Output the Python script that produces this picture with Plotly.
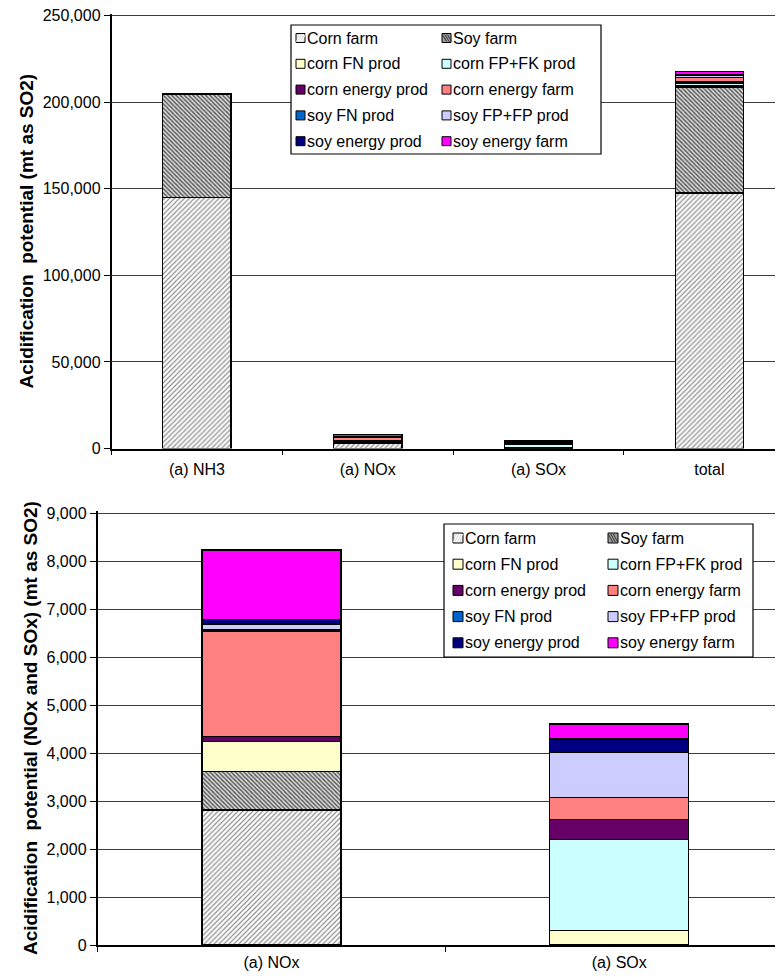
import plotly.graph_objects as go

# the page body adds an 8px margin, so the figure is drawn from (8, 8)
OFF = 8
W, H = 783 - OFF, 977 - OFF

series_names = ["Corn farm", "Soy farm", "corn FN prod", "corn FP+FK prod",
                "corn energy prod", "corn energy farm", "soy FN prod",
                "soy FP+FP prod", "soy energy prod", "soy energy farm"]

top_categories = ["(a) NH3", "(a) NOx", "(a) SOx", "total"]
bottom_categories = ["(a) NOx", "(a) SOx"]

# values per series for (a) NH3, (a) NOx, (a) SOx, total
corn_farm        = [144800, 2810,    0, 147610]
soy_farm         = [ 59900,  800,    0,  60700]
corn_fn_prod     = [     0,  625,  300,    925]
corn_fpfk_prod   = [     0,    0, 1900,   1900]
corn_energy_prod = [     0,  105,  420,    525]
corn_energy_farm = [     0, 2200,  455,   2655]
soy_fn_prod      = [     0,   20,    0,     20]
soy_fpfp_prod    = [     0,  130,  930,   1060]
soy_energy_prod  = [     0,   90,  285,    375]
soy_energy_farm  = [     0, 1450,  310,   1760]

all_values = [corn_farm, soy_farm, corn_fn_prod, corn_fpfk_prod, corn_energy_prod,
              corn_energy_farm, soy_fn_prod, soy_fpfp_prod, soy_energy_prod, soy_energy_farm]

top_ticks = [0, 50000, 100000, 150000, 200000, 250000]
bottom_ticks = [0, 1000, 2000, 3000, 4000, 5000, 6000, 7000, 8000, 9000]
top_max, bottom_max = 250000, 9000

colors = ["#ffffff", "#ffffff", "#ffffcc", "#ccffff", "#660066", "#ff8080",
          "#0066cc", "#ccccff", "#000080", "#ff00ff"]
patterns = [dict(shape="/", fgcolor="#8c8c8c", bgcolor="#ffffff", size=3.5, solidity=0.35),
            dict(shape="\\", fgcolor="#505050", bgcolor="#dcdcdc", size=3, solidity=0.45),
            None, None, None, None, None, None, None, None]
# legend swatch look for the patterned series
swatch_fill = ["#e4e4e4", "#9c9c9c"] + colors[2:]
FONT = "Liberation Sans, Arial, sans-serif"

fig = go.Figure()

def px2x(p):
    return (p - OFF) / W

def px2y(p):
    return 1 - (p - OFF) / H

for panel, (cats, sl, xa, ya) in enumerate([
        (top_categories, slice(0, 4), "x", "y"),
        (bottom_categories, slice(1, 3), "x2", "y2")]):
    for i, name in enumerate(series_names):
        marker = dict(color=colors[i], line=dict(color="#000000", width=1.4))
        if patterns[i] is not None:
            marker["pattern"] = dict(fillmode="replace", **patterns[i])
        fig.add_trace(go.Bar(
            x=cats, y=all_values[i][sl], name=name,
            marker=marker, xaxis=xa, yaxis=ya,
            showlegend=False, hoverinfo="skip"))

fig.update_layout(
    width=W, height=H,
    margin=dict(l=0, r=0, t=0, b=0),
    paper_bgcolor="white", plot_bgcolor="white",
    barmode="stack", bargap=0.6,
    font=dict(family=FONT, size=16, color="#000000"),
    showlegend=False,
)

grid = "#3c3c3c"
common_x = dict(type="category", showline=True, linecolor="#000", linewidth=1.5,
                ticks="outside", tickson="boundaries", ticklen=5, tickcolor="#000",
                showgrid=False, tickfont=dict(size=16), automargin=False, fixedrange=True)
common_y = dict(tickformat=",d", showline=True, linecolor="#000", linewidth=1.5,
                ticks="outside", ticklen=6, tickcolor="#000",
                showgrid=True, gridcolor=grid, gridwidth=1, zeroline=False,
                tickfont=dict(size=16), automargin=False, fixedrange=True,
                ticklabeloverflow="allow")

# top axis: 0 at y=448.5px, 250,000 at y=15.5px; a little headroom keeps the top gridline
top_px = (448.5 - 15.5) / top_max
top_head = 1000
bot_px = (945 - 513) / bottom_max
bot_head = 40
fig.update_layout(
    xaxis=dict(domain=[px2x(111.5), 1], range=[-0.5, 3.431], anchor="y",
               ticklabelstandoff=6, **common_x),
    yaxis=dict(domain=[px2y(448.5), px2y(15.5 - top_head * top_px)],
               range=[0, top_max + top_head],
               tickvals=top_ticks, anchor="x",
               title=dict(text="Acidification  potential (mt as SO2)",
                          font=dict(size=19, weight="bold"), standoff=4),
               **common_y),
    xaxis2=dict(domain=[px2x(97.5), 1], range=[-0.5, 1.471], anchor="y2",
                ticklabelstandoff=2, **common_x),
    yaxis2=dict(domain=[px2y(945), px2y(513 - bot_head * bot_px)],
                range=[0, bottom_max + bot_head],
                tickvals=bottom_ticks, anchor="x2",
                title=dict(text="Acidification  potential (NOx and SOx) (mt as SO2)",
                           font=dict(size=19, weight="bold"), standoff=4),
                **common_y),
)

# legend boxes (two columns, five rows), drawn as paper-positioned decorations
legend_boxes = [
    dict(box=(291, 25, 601, 154), cols=(296, 442), row0=38, step=25.8, sw=9),
    dict(box=(444, 524, 753, 657), cols=(453, 608), row0=538, step=26.2, sw=10),
]
for lb in legend_boxes:
    x0, y0, x1, y1 = lb["box"]
    fig.add_shape(type="rect", xref="paper", yref="paper",
                  x0=px2x(x0), x1=px2x(x1), y0=px2y(y1), y1=px2y(y0),
                  fillcolor="white", line=dict(color="#000", width=1.2), layer="above")
    for i, name in enumerate(series_names):
        col, row = i % 2, i // 2
        sx = lb["cols"][col]
        cy = lb["row0"] + row * lb["step"]
        sw = lb["sw"]
        fig.add_shape(type="rect", xref="paper", yref="paper",
                      x0=px2x(sx), x1=px2x(sx + sw),
                      y0=px2y(cy + sw / 2), y1=px2y(cy - sw / 2),
                      fillcolor=swatch_fill[i], line=dict(color="#000", width=1),
                      layer="above")
        if patterns[i] is not None:
            d = ""
            for k in (2.5, 5, 7.5):
                if patterns[i]["shape"] == "/":
                    d += f"M{px2x(sx + k - 2.2)},{px2y(cy + sw / 2 - 1)} L{px2x(sx + k + 2.2)},{px2y(cy - sw / 2 + 1)} "
                else:
                    d += f"M{px2x(sx + k - 2.2)},{px2y(cy - sw / 2 + 1)} L{px2x(sx + k + 2.2)},{px2y(cy + sw / 2 - 1)} "
            fig.add_shape(type="path", xref="paper", yref="paper", path=d,
                          line=dict(color="#ffffff" if i == 0 else "#333333", width=1),
                          layer="above")
        fig.add_annotation(x=px2x(sx + sw + 2), y=px2y(cy), xref="paper", yref="paper",
                           text=name, showarrow=False, xanchor="left", yanchor="middle",
                           font=dict(family=FONT, size=16, color="#000"),
                           borderpad=0, borderwidth=0)

fig.write_html("out.html")
